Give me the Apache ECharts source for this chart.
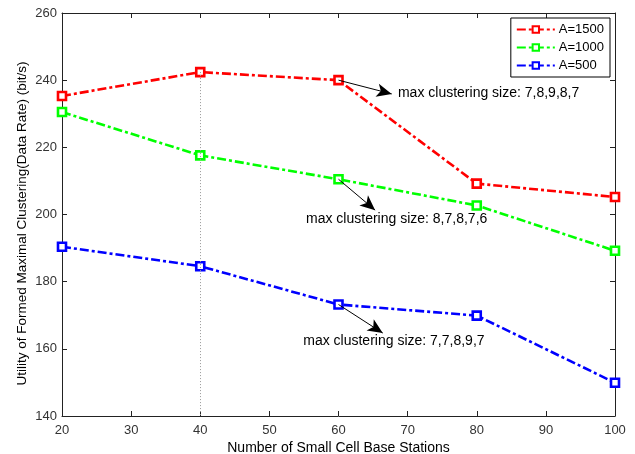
<!DOCTYPE html>
<html>
<head>
<meta charset="utf-8">
<script src="https://cdn.jsdelivr.net/npm/echarts@6/dist/echarts.min.js"></script>
<style>
  html, body { margin: 0; padding: 0; background: #fff; }
  #chart { width: 635px; height: 454px; }
</style>
</head>
<body>
<div id="chart"></div>
<script>
// data
var stations = [20, 40, 60, 80, 100];
var a1500 = [235.3, 242.4, 240.0, 209.2, 205.2];
var a1000 = [230.5, 217.6, 210.5, 202.7, 189.2];
var a500 = [190.4, 184.6, 173.2, 169.9, 149.9];
var seriesNames = ['A=1500', 'A=1000', 'A=500'];
var seriesColors = ['#ff0000', '#00ff00', '#0000ff'];
var notes = ['max clustering size: 7,8,9,8,7', 'max clustering size: 8,7,8,7,6', 'max clustering size: 7,7,8,9,7'];
// arrow tail (the x=60 point) -> arrow head, and where the note text starts
var arrowHeads = [[67.7, 235.9], [65.3, 201.3], [66.4, 164.7]];
var noteAt = [[68.6, 236.2], [55.3, 198.7], [54.9, 162.3]];

var allValues = [a1500, a1000, a500];
var font = 'Liberation Sans, Arial, sans-serif';

function pairs(vals) {
    return stations.map(function (x, i) { return [x, vals[i]]; });
}

var series = allValues.map(function (vals, k) {
    return {
        name: seriesNames[k],
        type: 'line',
        data: pairs(vals),
        symbol: 'rect',
        symbolSize: 8,
        lineStyle: { color: seriesColors[k], width: 2.6, type: [9, 3, 3, 3] },
        itemStyle: { color: '#fff', borderColor: seriesColors[k], borderWidth: 2.6 },
        emphasis: { disabled: true },
        animation: false,
        z: 3,
        markLine: {
            silent: true,
            animation: false,
            symbol: ['none', 'arrow'],
            symbolSize: [10, 15],
            label: { show: false },
            lineStyle: { color: '#000', width: 1, type: 'solid' },
            data: [[
                { coord: [stations[2], vals[2]] },
                { coord: arrowHeads[k] }
            ]]
        },
        markPoint: {
            silent: true,
            animation: false,
            symbol: 'circle',
            symbolSize: 0,
            label: {
                show: true,
                position: 'right',
                distance: 0,
                formatter: notes[k],
                color: '#000',
                fontFamily: font,
                fontSize: 14
            },
            data: [{ coord: noteAt[k] }]
        }
    };
});

// dotted guide line under the peak of A=1500
series[0].markLine.data.push([
    { coord: [stations[1], a1500[1]], symbol: 'none' },
    { coord: [stations[1], 140], symbol: 'none', lineStyle: { color: '#999', width: 1, type: [1, 2] } }
]);

var chart = echarts.init(document.getElementById('chart'));

var axLine = { show: true, lineStyle: { color: '#222', width: 1 } };
var tick = { show: true, inside: true, length: 5, lineStyle: { color: '#222' } };
var hidden = { show: false };

// the axis names sit on label-less helper axes so they are not pushed off the tick labels
chart.setOption({
    backgroundColor: '#fff',
    animation: false,
    grid: { left: 62, right: 20, top: 13, bottom: 38, show: false, outerBoundsMode: 'none', containLabel: false },
    legend: {
        data: seriesNames,
        orient: 'vertical',
        right: 25,
        top: 18,
        itemWidth: 38,
        itemHeight: 8,
        itemGap: 5,
        padding: [5, 6, 5, 5],
        backgroundColor: '#fff',
        borderColor: '#000',
        borderWidth: 1,
        borderRadius: 0,
        textStyle: { color: '#000', fontFamily: font, fontSize: 13, padding: [0, 0, 0, -1] }
    },
    xAxis: [{
        type: 'value',
        min: 20, max: 100, interval: 10,
        axisLine: axLine, axisTick: tick,
        axisLabel: { color: '#333', fontFamily: font, fontSize: 13, margin: 8 },
        splitLine: hidden
    }, {
        type: 'value', position: 'top',
        min: 20, max: 100, interval: 10,
        axisLine: axLine, axisTick: tick, axisLabel: hidden,
        splitLine: hidden
    }, {
        type: 'value', position: 'bottom',
        min: 20, max: 100, interval: 10,
        name: 'Number of Small Cell Base Stations',
        nameLocation: 'middle',
        nameGap: 25,
        nameTextStyle: { color: '#000', fontFamily: font, fontSize: 14 },
        axisLine: hidden, axisTick: hidden, axisLabel: hidden,
        splitLine: hidden
    }],
    yAxis: [{
        type: 'value',
        min: 140, max: 260, interval: 20,
        axisLine: axLine, axisTick: tick,
        axisLabel: { color: '#333', fontFamily: font, fontSize: 13, margin: 5 },
        splitLine: hidden
    }, {
        type: 'value', position: 'right',
        min: 140, max: 260, interval: 20,
        axisLine: axLine, axisTick: tick, axisLabel: hidden,
        splitLine: hidden
    }, {
        type: 'value', position: 'left',
        min: 140, max: 260, interval: 20,
        name: 'Utility of Formed Maximal Clustering(Data Rate) (bit/s)',
        nameLocation: 'middle',
        nameGap: 33,
        nameTextStyle: { color: '#000', fontFamily: font, fontSize: 13.5, padding: [0, 18, 0, 0] },
        axisLine: hidden, axisTick: hidden, axisLabel: hidden,
        splitLine: hidden
    }],
    series: series
});
</script>
</body>
</html>
